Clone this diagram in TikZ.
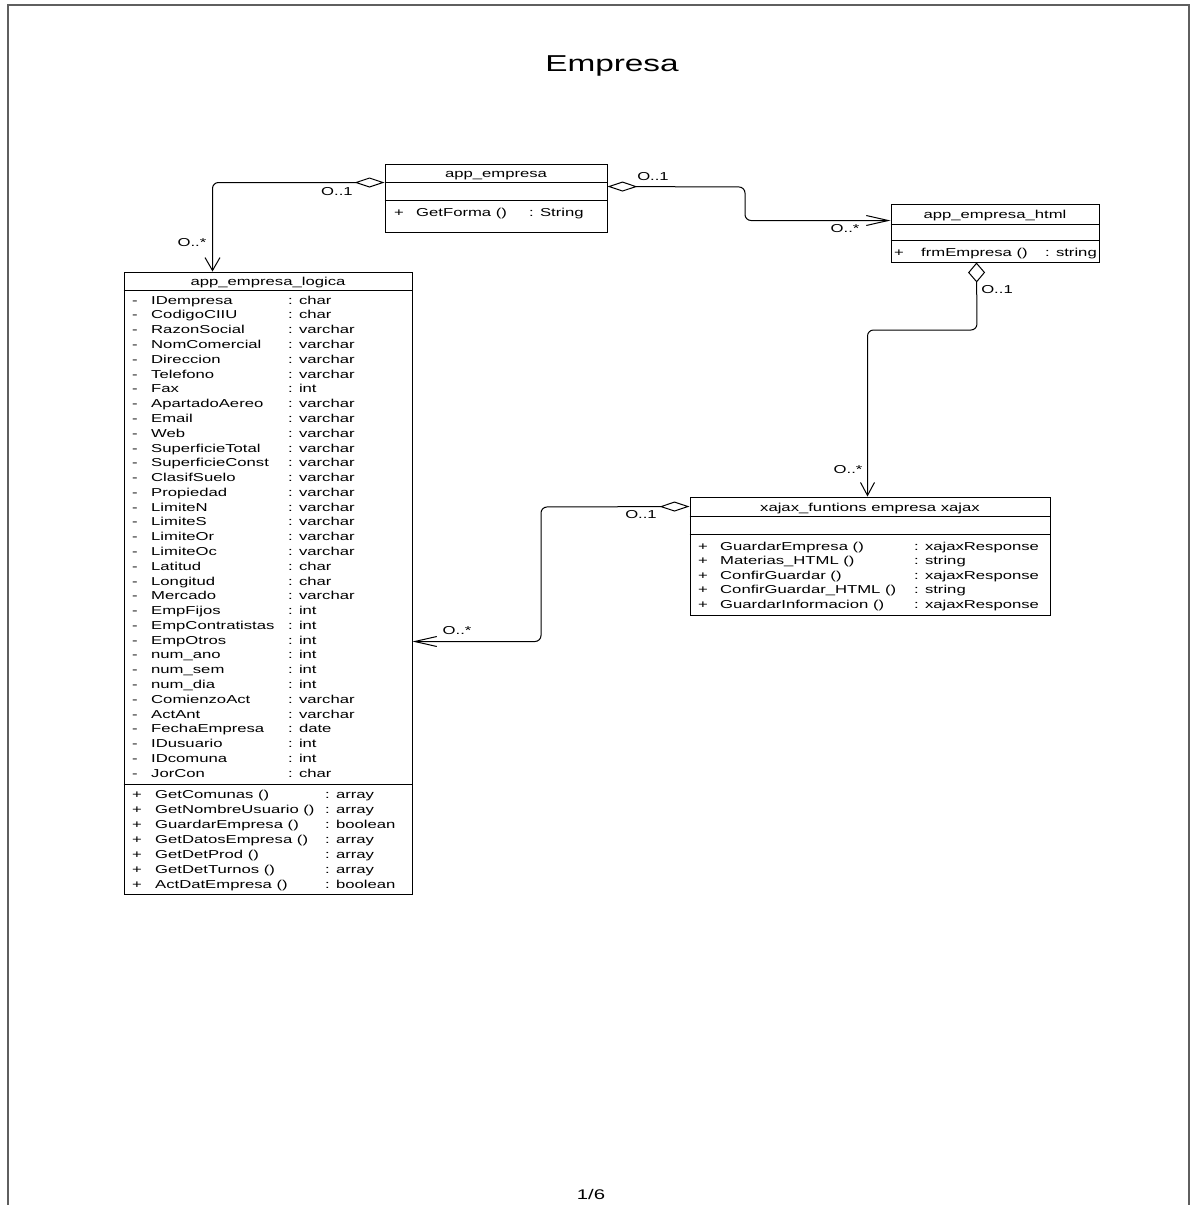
\documentclass[tikz,border=0pt]{standalone}
\usepackage{fontspec}
\newfontfamily\umlfont{Liberation Sans}[FakeStretch=1.45]
\usetikzlibrary{arrows.meta,calc}
\definecolor{framegray}{RGB}{95,95,95}

\begin{document}
\begin{tikzpicture}[x=1pt,y=-1pt,
  body/.style={font=\umlfont\fontsize{11.5}{14}\selectfont, inner sep=0pt},
  txt/.style={body, anchor=base west},
  ctxt/.style={body, anchor=base},
  mult/.style={body, anchor=center},
  classbox/.style={draw, line width=1pt, inner sep=0pt},
  sepline/.style={line width=1pt},
  assoc/.style={line width=1pt, rounded corners=6pt},
  ]
\useasboundingbox (0,0) rectangle (1193,1205);

% page frame (open at the bottom edge)
\draw[framegray, line width=2pt] (8,1205) -- (8,5) -- (1189,5) -- (1189,1205);

% headline and page number
\node[font=\umlfont\fontsize{23}{28}\selectfont, inner sep=0pt, anchor=base] (title) at (612,71) {Empresa};
\node[font=\umlfont\fontsize{14}{16}\selectfont, inner sep=0pt, anchor=base] (pagenum) at (591,1199) {1/6};

% ---------- app_empresa ----------
\node[classbox, minimum width=222pt, minimum height=68pt] (emp) at (496,198) {};
\draw[sepline] ($(emp.north west)+(0,19)$) -- ($(emp.north east)+(0,19)$);
\draw[sepline] ($(emp.north west)+(0,37)$) -- ($(emp.north east)+(0,37)$);
\node[ctxt] (empT) at (496,177) {app\_empresa};
\node[ctxt] (empP) at (399,216) {+};
\node[txt] (empM) at (416,216) {GetForma ()};
\node[txt] (empR) at (529,216) {: String};

% ---------- app_empresa_html ----------
\node[classbox, minimum width=208pt, minimum height=58pt] (html) at (995,233) {};
\draw[sepline] ($(html.north west)+(0,21)$) -- ($(html.north east)+(0,21)$);
\draw[sepline] ($(html.north west)+(0,37)$) -- ($(html.north east)+(0,37)$);
\node[ctxt] (htmlT) at (995,218) {app\_empresa\_html};
\node[ctxt] (htmlP) at (899,256) {+};
\node[txt] (htmlM) at (921,256) {frmEmpresa ()};
\node[txt] (htmlR) at (1045,256) {: string};

% ---------- app_empresa_logica ----------
\node[classbox, minimum width=288pt, minimum height=622pt] (logica) at (268,583) {};
\draw[sepline] ($(logica.north west)+(0,19)$) -- ($(logica.north east)+(0,19)$);
\draw[sepline] ($(logica.north west)+(0,513)$) -- ($(logica.north east)+(0,513)$);
\node[ctxt] (logicaT) at (268,285) {app\_empresa\_logica};
\foreach \nm/\ty [count=\i from 0] in {
  IDempresa/char, CodigoCIIU/char, RazonSocial/varchar, NomComercial/varchar,
  Direccion/varchar, Telefono/varchar, Fax/int, ApartadoAereo/varchar,
  Email/varchar, Web/varchar, SuperficieTotal/varchar, SuperficieConst/varchar,
  ClasifSuelo/varchar, Propiedad/varchar, LimiteN/varchar, LimiteS/varchar,
  LimiteOr/varchar, LimiteOc/varchar, Latitud/char, Longitud/char,
  Mercado/varchar, EmpFijos/int, EmpContratistas/int, EmpOtros/int,
  num\_ano/int, num\_sem/int, num\_dia/int, ComienzoAct/varchar,
  ActAnt/varchar, FechaEmpresa/date, IDusuario/int, IDcomuna/int, JorCon/char} {
  \node[ctxt] (logicaV\i) at (135,304.2+14.78*\i) {-};
  \node[txt] (logicaA\i) at (151,304.2+14.78*\i) {\nm};
  \node[txt] (logicaY\i) at (288,304.2+14.78*\i) {: \ty};
}
\foreach \nm/\ty [count=\i from 0] in {
  GetComunas ()/array, GetNombreUsuario ()/array, GuardarEmpresa ()/boolean,
  GetDatosEmpresa ()/array, GetDetProd ()/array, GetDetTurnos ()/array,
  ActDatEmpresa ()/boolean} {
  \node[ctxt] (logicaP\i) at (137,798.2+15*\i) {+};
  \node[txt] (logicaM\i) at (155,798.2+15*\i) {\nm};
  \node[txt] (logicaR\i) at (325,798.2+15*\i) {: \ty};
}

% ---------- xajax_funtions ----------
\node[classbox, minimum width=360pt, minimum height=118pt] (xajax) at (870,556) {};
\draw[sepline] ($(xajax.north west)+(0,20)$) -- ($(xajax.north east)+(0,20)$);
\draw[sepline] ($(xajax.north west)+(0,38)$) -- ($(xajax.north east)+(0,38)$);
\node[ctxt] (xajaxT) at (870,511) {xajax\_funtions empresa xajax};
\foreach \nm/\ty [count=\i from 0] in {
  GuardarEmpresa ()/xajaxResponse, Materias\_HTML ()/string,
  ConfirGuardar ()/xajaxResponse, ConfirGuardar\_HTML ()/string,
  GuardarInformacion ()/xajaxResponse} {
  \node[ctxt] (xajaxP\i) at (703,550.2+14.5*\i) {+};
  \node[txt] (xajaxM\i) at (720,550.2+14.5*\i) {\nm};
  \node[txt] (xajaxR\i) at (914,550.2+14.5*\i) {: \ty};
}

% ---------- associations (aggregation, navigable end) ----------
\draw[assoc, {Diamond[open,length=30pt,width=10pt]}-{Straight Barb[length=13pt,width=15pt]}]
  ($(emp.north west)+(0,19)$) -| ($(logica.north west)+(89,0)$);
\node[mult] (m1a) at (337,192) {O..1};
\node[mult] (m1b) at (192,243) {O..*};

\draw[assoc, {Diamond[open,length=30pt,width=10pt]}-{Straight Barb[length=22pt,width=10pt]}]
  ($(emp.north east)+(0,23)$) -- (745,187) |- ($(html.north west)+(0,17)$);
\node[mult] (m2a) at (653,177) {O..1};
\node[mult] (m2b) at (845,229) {O..*};

\draw[assoc, {Diamond[open,length=20pt,width=17pt]}-{Straight Barb[length=13pt,width=14pt]}]
  ($(html.south west)+(86,0)$) -- (977,330) -| ($(xajax.north west)+(178,0)$);
\node[mult] (m3a) at (997,290) {O..1};
\node[mult] (m3b) at (848,470) {O..*};

\draw[assoc, {Diamond[open,length=30pt,width=10pt]}-{Straight Barb[length=22pt,width=10pt]}]
  ($(xajax.north west)+(0,10)$) -- (541,507) |- ($(logica.north east)+(0,370)$);
\node[mult] (m4a) at (641,515) {O..1};
\node[mult] (m4b) at (457,631) {O..*};

\end{tikzpicture}
\end{document}
